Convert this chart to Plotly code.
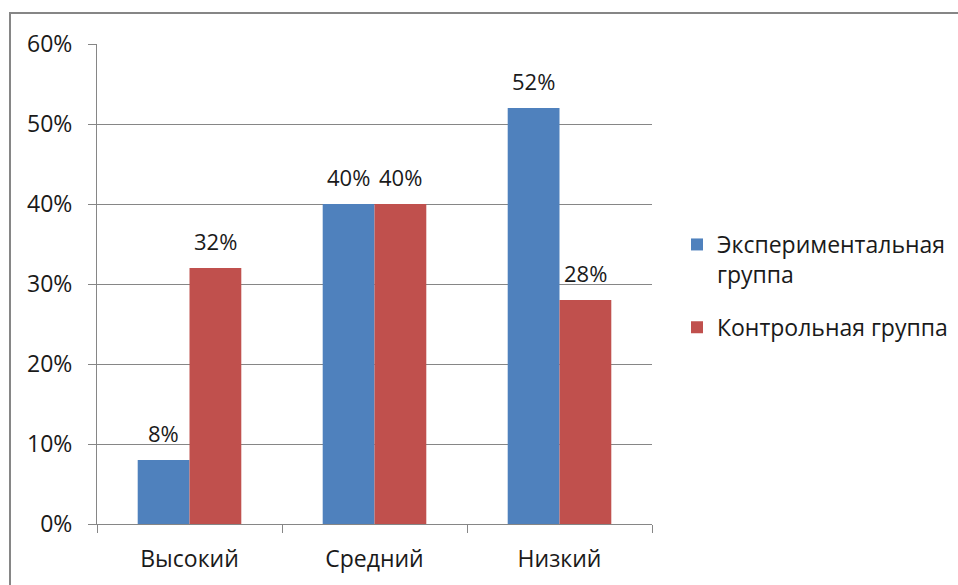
import plotly.graph_objects as go

categories = ["Высокий", "Средний", "Низкий"]
exp_values = [8, 40, 52]
ctrl_values = [32, 40, 28]
series_names = ["Экспериментальная<br>группа", "Контрольная группа"]
y_ticks = [0, 10, 20, 30, 40, 50, 60]
y_tick_labels = [f"{v}%" for v in y_ticks]

FONT = "'Open Sans', sans-serif"
FS = 23
W, H = 958, 585
L, R, T, B = 97, 0, 44, 61
PLOT_RIGHT = 652
pw, ph = W - L - R, H - T - B


def px_x(px):
    return (px - L) / pw


def px_y(py):
    return (H - B - py) / ph


fig = go.Figure()
fig.add_trace(go.Bar(
    x=categories, y=exp_values, name=series_names[0], legendgroup="a",
    marker=dict(color="#4F81BD", line=dict(width=0)),
))
fig.add_trace(go.Bar(
    x=categories, y=ctrl_values, name=series_names[1], legendgroup="b",
    marker=dict(color="#C0504D", line=dict(width=0)),
))

# data labels above bars
for vals, shift in ((exp_values, -26), (ctrl_values, 26)):
    for c, v in zip(categories, vals):
        fig.add_annotation(
            x=c, y=v, xref="x", yref="y", text=f"{v}%", showarrow=False,
            xanchor="center", yanchor="bottom", xshift=shift, yshift=10,
            font=dict(size=FS - 1, family=FONT, color="#1a1a1a"),
        )

fig.update_layout(
    width=W, height=H,
    margin=dict(l=L, r=R, t=T, b=B, autoexpand=False),
    paper_bgcolor="white", plot_bgcolor="white",
    barmode="group", bargap=0.44, bargroupgap=0,
    font=dict(family=FONT, size=FS, color="#1a1a1a"),
    legend=dict(
        x=px_x(677), y=px_y(223), xanchor="left", yanchor="top",
        font=dict(size=FS, family=FONT), itemwidth=30, tracegroupgap=20,
        valign="top",
    ),
)
fig.update_xaxes(
    domain=[0, px_x(PLOT_RIGHT)], automargin=False,
    showline=True, linecolor="#868686", linewidth=1,
    ticks="outside", tickson="boundaries", ticklen=8, tickcolor="#868686",
    tickfont=dict(size=FS, family=FONT), showgrid=False, ticklabelstandoff=14,
)
fig.update_yaxes(
    range=[0, 60], tickvals=y_ticks, ticktext=y_tick_labels, automargin=False,
    showline=True, linecolor="#868686", linewidth=1,
    ticks="outside", ticklen=8, tickcolor="#868686",
    showgrid=True, gridcolor="#868686", gridwidth=1,
    tickfont=dict(size=FS, family=FONT), zeroline=False, ticklabelstandoff=11,
)
fig.add_shape(
    type="rect", xref="paper", yref="paper",
    x0=px_x(10), x1=px_x(975),
    y0=px_y(600), y1=px_y(13),
    line=dict(color="#868686", width=2), fillcolor="rgba(0,0,0,0)", layer="below",
)
fig.write_html("out.html")
